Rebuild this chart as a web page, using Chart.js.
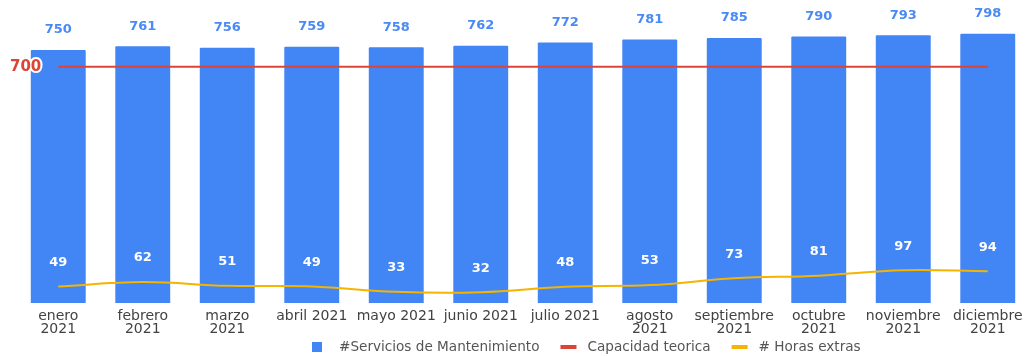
<!DOCTYPE html>
<html>
<head>
<meta charset="utf-8">
<script src="https://cdn.jsdelivr.net/npm/chart.js@4"></script>
<style>
  html, body { margin: 0; padding: 0; background: #fff; }
  #wrap { width: 1026px; height: 356px; overflow: hidden; }
</style>
</head>
<body>
<div id="wrap"><canvas id="mantChart" width="1030" height="356"></canvas></div>
<script>
// Monthly data 2021
const meses = [
  ['enero', '2021'], ['febrero', '2021'], ['marzo', '2021'], 'abril 2021',
  'mayo 2021', 'junio 2021', 'julio 2021', ['agosto', '2021'],
  ['septiembre', '2021'], ['octubre', '2021'], ['noviembre', '2021'], ['diciembre', '2021']
];
const servicios = [750, 761, 756, 759, 758, 762, 772, 781, 785, 790, 793, 798];
const capacidad = [700, 700, 700, 700, 700, 700, 700, 700, 700, 700, 700, 700];
const horasExtras = [49, 62, 51, 49, 33, 32, 48, 53, 73, 81, 97, 94];

const AZUL = '#4285F4';
const ROJO = '#DB4437';
const AMARILLO = '#F4B400';
const FONT = '"DejaVu Sans", sans-serif';

// value labels: above bars, inside bars for overtime, and the capacity figure at left
const valueLabels = {
  id: 'valueLabels',
  afterDatasetsDraw(chart) {
    const ctx = chart.ctx;
    ctx.save();
    ctx.textAlign = 'center';
    ctx.textBaseline = 'middle';
    ctx.font = 'bold 13px ' + FONT;

    chart.getDatasetMeta(0).data.forEach((bar, i) => {
      ctx.fillStyle = '#4a8af4';
      ctx.fillText(servicios[i], bar.x, bar.y - 20);
    });

    chart.getDatasetMeta(2).data.forEach((pt, i) => {
      ctx.fillStyle = '#ffffff';
      ctx.fillText(horasExtras[i], pt.x, pt.y - 24);
    });

    const y = chart.scales.y.getPixelForValue(capacidad[0]);
    ctx.font = 'bold 15px ' + FONT;
    ctx.textAlign = 'left';
    ctx.lineJoin = 'round';
    ctx.lineWidth = 4;
    ctx.strokeStyle = '#ffffff';
    ctx.strokeText(capacidad[0], 10, y);
    ctx.fillStyle = ROJO;
    ctx.fillText(capacidad[0], 10, y);
    ctx.restore();
  }
};

// legend drawn along the bottom
const bottomLegend = {
  id: 'bottomLegend',
  afterDraw(chart) {
    const ctx = chart.ctx;
    const y = 347;
    let x = 312;
    ctx.save();
    ctx.font = '13.6px ' + FONT;
    ctx.textBaseline = 'middle';
    ctx.textAlign = 'left';
    chart.data.datasets.forEach((ds) => {
      if (ds.type === 'bar') {
        ctx.fillStyle = ds.backgroundColor;
        ctx.fillRect(x, y - 5, 10, 10);
        x += 10 + 17;
      } else {
        ctx.fillStyle = ds.borderColor;
        ctx.fillRect(x, y - 2, 16, 4);
        x += 16 + 11;
      }
      ctx.fillStyle = '#555555';
      ctx.fillText(ds.label, x, y);
      x += ctx.measureText(ds.label).width + 21;
    });
    ctx.restore();
  }
};

const ctx = document.getElementById('mantChart').getContext('2d');

new Chart(ctx, {
  data: {
    labels: meses,
    datasets: [
      {
        type: 'bar',
        label: '#Servicios de Mantenimiento',
        data: servicios,
        backgroundColor: AZUL,
        categoryPercentage: 1,
        barPercentage: 0.65,
        borderRadius: 1,
        order: 3
      },
      {
        type: 'line',
        label: 'Capacidad teorica',
        data: capacidad,
        borderColor: ROJO,
        borderWidth: 2,
        pointRadius: 0,
        order: 1
      },
      {
        type: 'line',
        label: '# Horas extras',
        data: horasExtras,
        borderColor: AMARILLO,
        borderWidth: 2,
        pointRadius: 0,
        tension: 0.4,
        order: 2
      }
    ]
  },
  options: {
    responsive: false,
    animation: false,
    layout: { padding: { left: 16, right: 0, top: 6, bottom: 0 } },
    plugins: {
      legend: { display: false },
      tooltip: { enabled: false }
    },
    scales: {
      x: {
        grid: { display: false, drawTicks: false },
        border: { display: false },
        ticks: {
          color: '#424242',
          font: { family: FONT, size: 14, lineHeight: 0.93 },
          padding: 7,
          maxRotation: 0,
          autoSkip: false
        },
        afterFit(scale) {
          scale.height = 53;
          scale.paddingLeft = 0;
          scale.paddingRight = 0;
        }
      },
      y: {
        display: false,
        min: 0,
        max: 880
      }
    }
  },
  plugins: [valueLabels, bottomLegend]
});
</script>
</body>
</html>
